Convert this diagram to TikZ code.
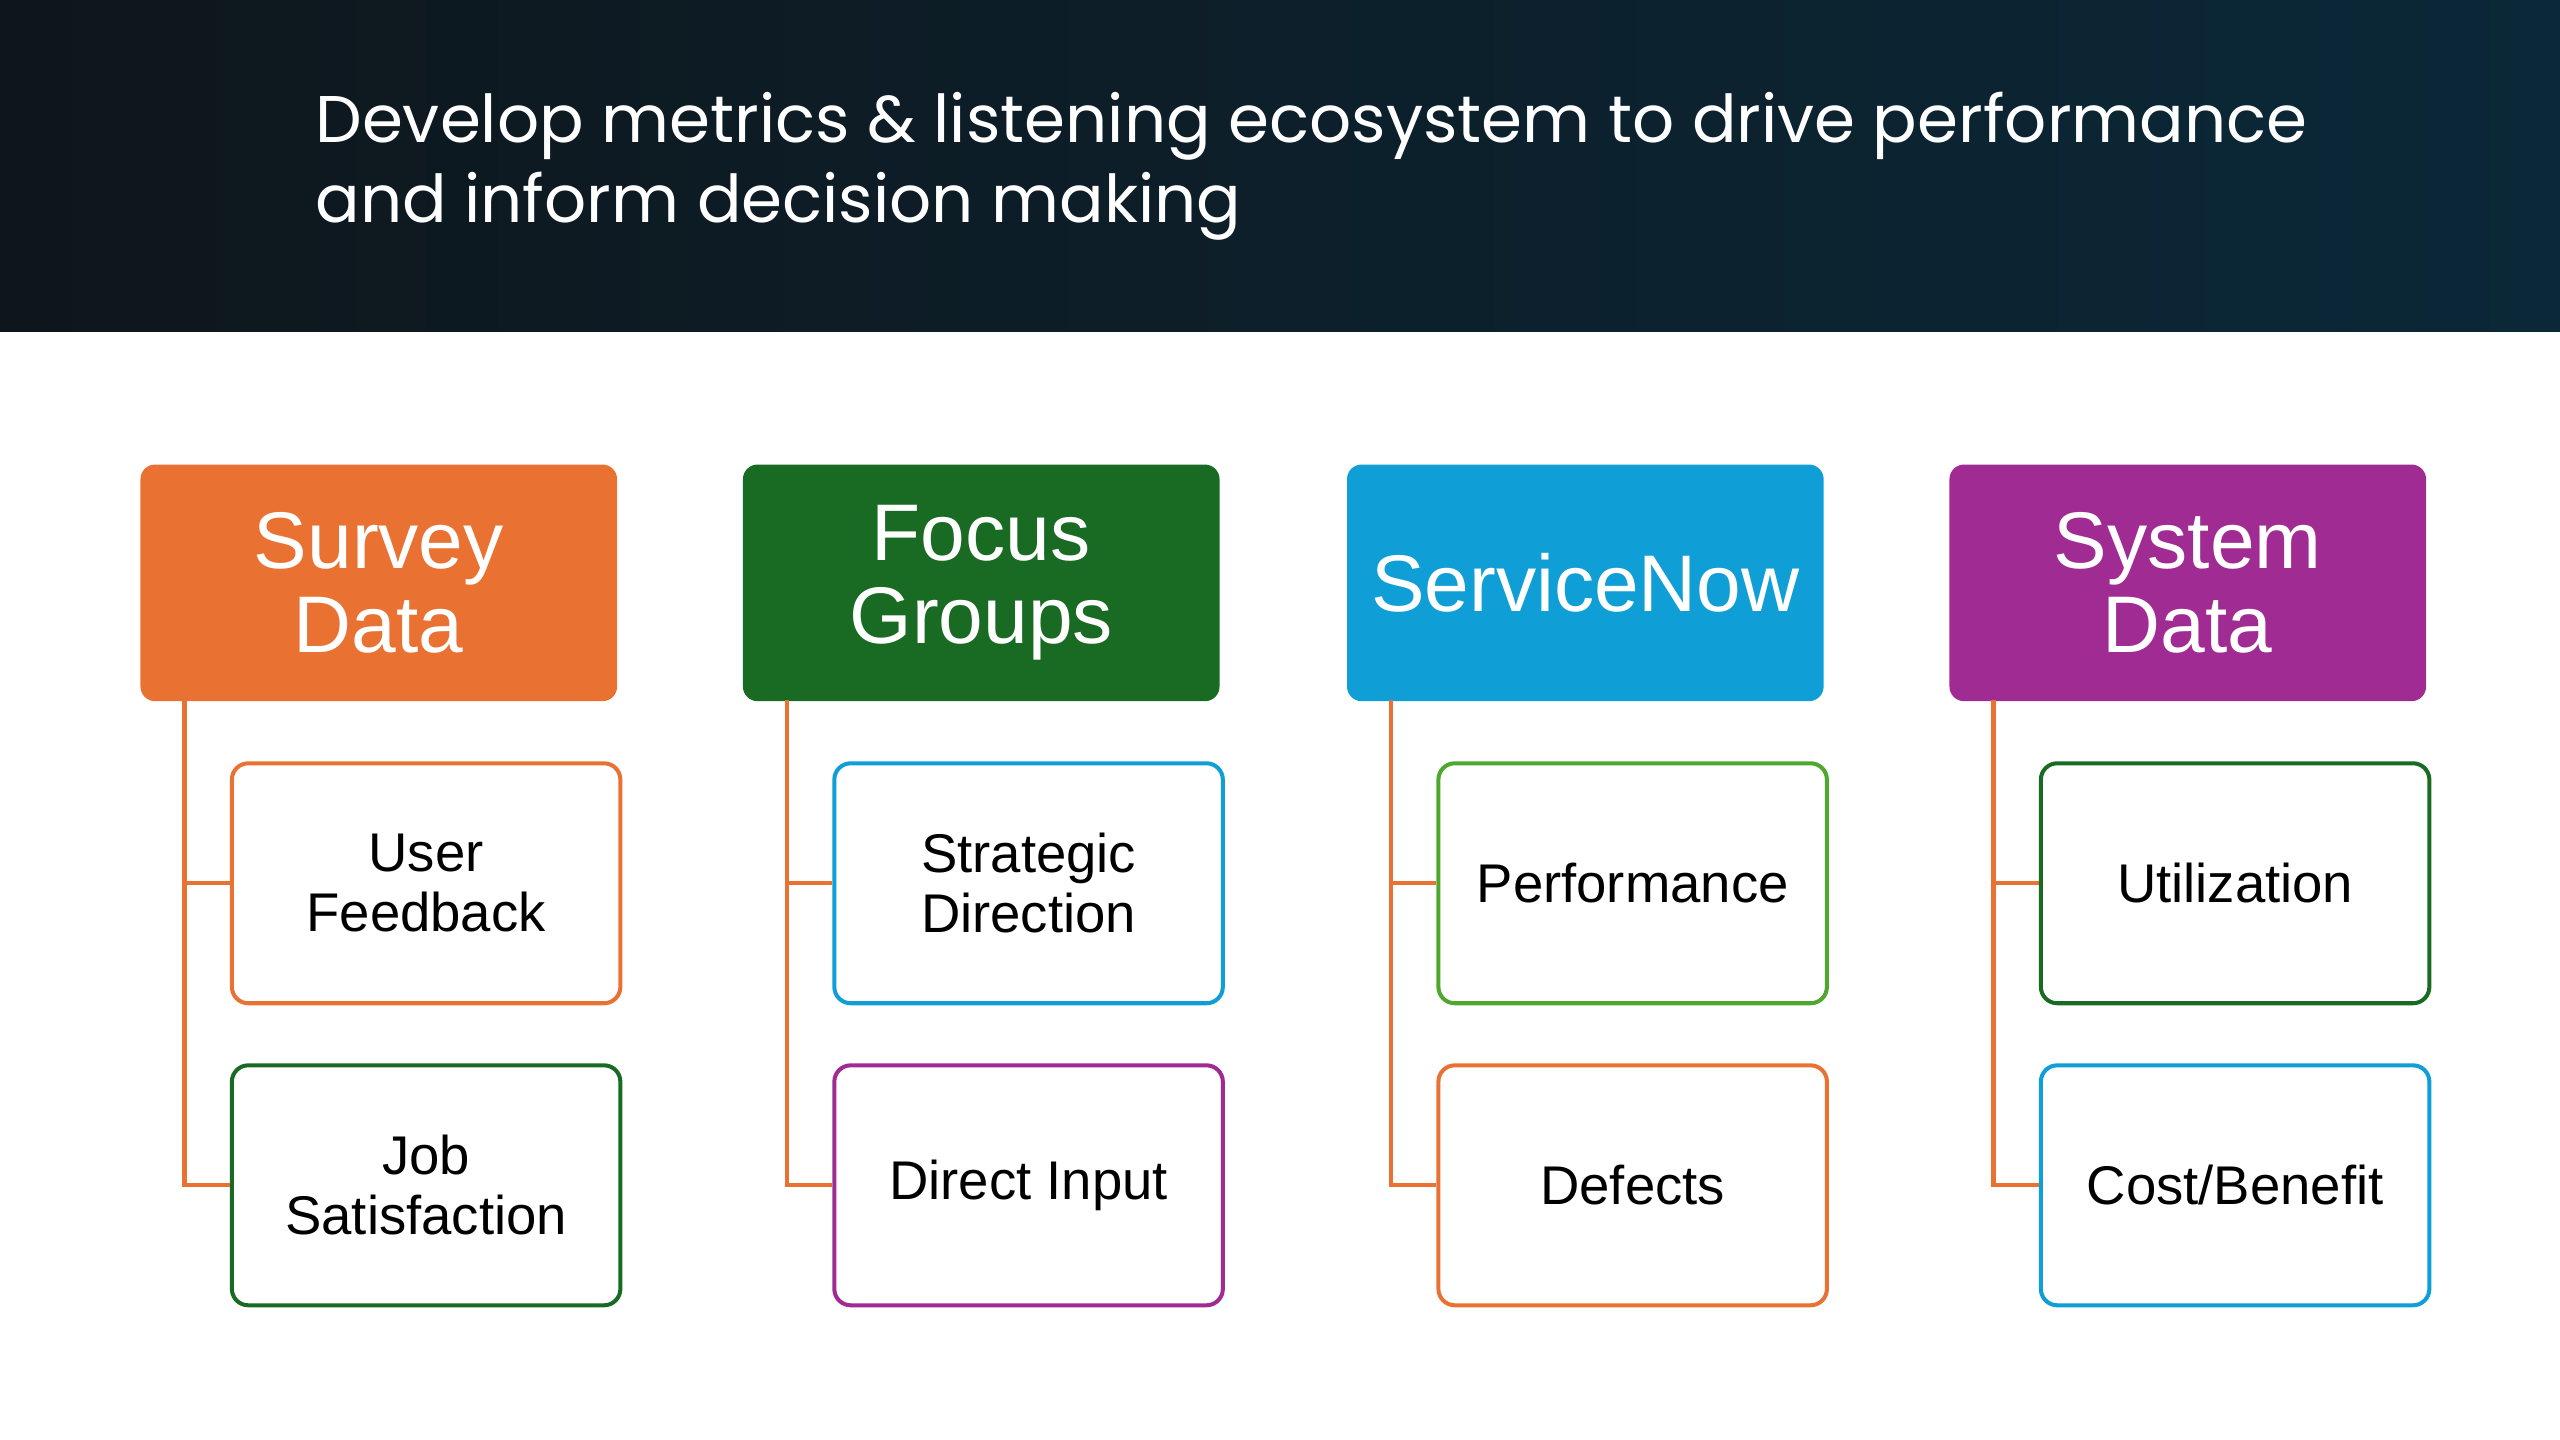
\documentclass[tikz,border=0pt]{standalone}
\usepackage{fontspec}
\setmainfont{Liberation Sans}
\newfontfamily\titlefont{Poppins}
\definecolor{cOr}{HTML}{E97132}
\definecolor{cGr}{HTML}{196B24}
\definecolor{cBl}{HTML}{0F9ED5}
\definecolor{cPu}{HTML}{A02B93}
\definecolor{cLg}{HTML}{4EA72E}
\definecolor{hdA}{HTML}{0E161C}
\definecolor{hdB}{HTML}{0B2838}
\begin{document}
\begin{tikzpicture}[x=0.02cm,y=-0.02cm,
 head/.style={draw=none,fill=#1,rounded corners=0.18cm,minimum width=5.84cm,minimum height=2.9cm,text=white,font=\fontsize{28}{29}\selectfont,align=center,inner sep=0pt},
 child/.style={draw=#1,line width=1.4pt,fill=white,rounded corners=0.2cm,minimum width=4.76cm,minimum height=2.94cm,font=\fontsize{19}{21}\selectfont,align=center,inner sep=0pt},
 conn/.style={draw=cOr,line width=1.4pt}]
\useasboundingbox (0,0) rectangle (1568,882);
\fill[left color=hdA,right color=hdB] (0,0) rectangle (1568,203);
\node[anchor=west,text=white,align=left,font=\titlefont\fontsize{23}{28}\selectfont] (title) at (187,102) {Develop metrics \& listening ecosystem to drive performance\\and inform decision making};
\foreach \i/\xx/\hcol/\htxt/\acol/\atxt/\bcol/\btxt in {
 1/86/cOr/{Survey\\Data}/cOr/{User\\Feedback}/cGr/{Job\\Satisfaction},
 2/455/cGr/{Focus\\Groups}/cBl/{Strategic\\Direction}/cPu/{Direct Input},
 3/825/cBl/{ServiceNow}/cLg/{Performance}/cOr/{Defects},
 4/1194/cPu/{System\\Data}/cGr/{Utilization}/cBl/{Cost/Benefit}}{
 \node[head=\hcol] (h\i) at (\xx+146,357) {\htxt};
 \node[child=\acol] (a\i) at (\xx+175,541) {\atxt};
 \node[child=\bcol] (b\i) at (\xx+175,726) {\btxt};
 \coordinate (s\i) at (\xx+27,429);
 \draw[conn] (s\i) |- (a\i.west);
 \draw[conn] (s\i) |- (b\i.west);
}
\end{tikzpicture}
\end{document}
